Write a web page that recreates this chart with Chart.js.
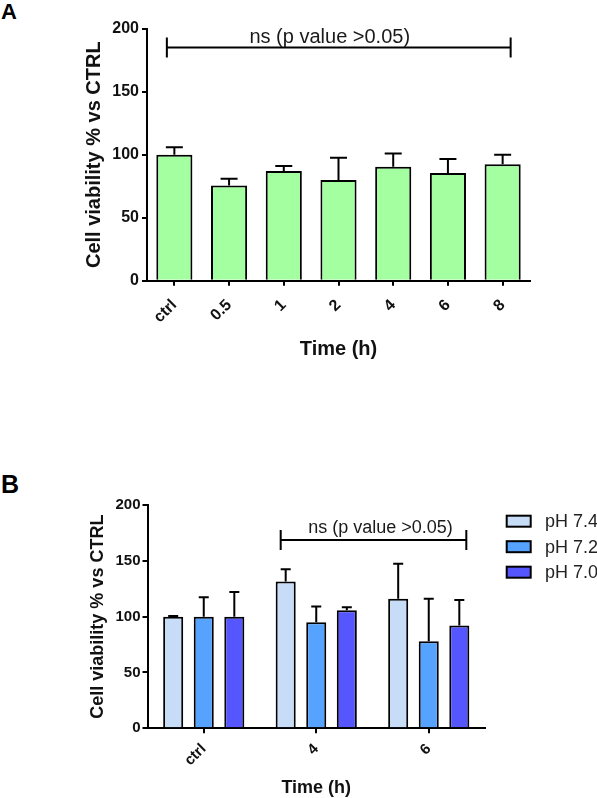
<!DOCTYPE html>
<html><head><meta charset="utf-8">
<script src="https://cdn.jsdelivr.net/npm/chart.js@4.4.1/dist/chart.umd.min.js"></script>
<style>
html,body{margin:0;padding:0;background:#fff;width:597px;height:798px;overflow:hidden;}
#cA{position:absolute;left:0;top:0;}
#cB{position:absolute;left:0;top:390px;}
.lbl{position:absolute;font-family:"Liberation Sans",Arial,sans-serif;font-weight:bold;color:#000;}
</style></head><body>
<div class="lbl" style="left:1px;top:1px;font-size:22px;line-height:22px;">A</div>
<div class="lbl" style="left:1px;top:472px;font-size:25px;line-height:25px;">B</div>
<canvas id="cA" width="597" height="380"></canvas>
<canvas id="cB" width="597" height="408"></canvas>
<script>
// ---- Panel A data ----
const timesA = ['ctrl', '0.5', '1', '2', '4', '6', '8'];
const viabilityA = [100, 75.5, 87, 80, 90.5, 85.5, 92.5];
const sdA = [6, 5.5, 4, 17.5, 10.5, 11, 7.5];
// ---- Panel B data ----
const timesB = ['ctrl', '4', '6'];
const seriesB = ['pH 7.4', 'pH 7.2', 'pH 7.0'];
const pH74 = [100, 131.5, 116];
const pH72 = [100, 95, 78];
const pH70 = [100, 105.7, 92];
const sdPH74 = [0.5, 11, 31.3];
const sdPH72 = [17.4, 14, 38];
const sdPH70 = [22, 2.7, 23];
// ---- axis / annotation ----
const yTicks = [0, 50, 100, 150, 200];
const nsText = 'ns (p value >0.05)';
const bracketA = {fromCat: 0, toCat: 6, value: 185};
const bracketB = {fromSeries: 0, fromCat: 1, toSeries: 2, toCat: 2, value: 168.7};

const FONT = '"Liberation Sans", Arial, sans-serif';
const colorsB = ['#C6DCF7', '#56A3FF', '#5656FF'];

const errorBars = {
  id: 'errorBars',
  afterDatasetsDraw(chart, args, opts) {
    const ctx = chart.ctx, ys = chart.scales.y;
    chart.data.datasets.forEach((ds, i) => {
      const meta = chart.getDatasetMeta(i);
      meta.data.forEach((bar, j) => {
        const top = ys.getPixelForValue(ds.data[j] + ds.errors[j]);
        ctx.save();
        ctx.strokeStyle = '#000'; ctx.lineWidth = 2;
        ctx.beginPath();
        ctx.moveTo(bar.x, bar.y); ctx.lineTo(bar.x, top);
        ctx.moveTo(bar.x - opts.cap / 2, top); ctx.lineTo(bar.x + opts.cap / 2, top);
        ctx.stroke();
        ctx.restore();
      });
    });
  }
};

const bracket = {
  id: 'bracket',
  afterDraw(chart, args, o) {
    const ctx = chart.ctx, ys = chart.scales.y;
    const m0 = chart.getDatasetMeta(o.fromSeries), m1 = chart.getDatasetMeta(o.toSeries);
    const x0 = m0.data[o.fromCat].x + o.dx0, x1 = m1.data[o.toCat].x + o.dx1;
    const y = ys.getPixelForValue(o.value);
    ctx.save();
    ctx.strokeStyle = '#000'; ctx.lineWidth = 2;
    ctx.beginPath();
    ctx.moveTo(x0, y); ctx.lineTo(x1, y);
    ctx.moveTo(x0, y - 10); ctx.lineTo(x0, y + 10);
    ctx.moveTo(x1, y - 10); ctx.lineTo(x1, y + 10);
    ctx.stroke();
    ctx.fillStyle = '#1a1a1a';
    ctx.font = o.fontSize + 'px ' + FONT;
    ctx.textAlign = 'center'; ctx.textBaseline = 'alphabetic';
    ctx.fillText(o.text, (x0 + x1) / 2 + o.tdx, y + o.tdy);
    ctx.restore();
  }
};

const boxLegend = {
  id: 'boxLegend',
  afterDraw(chart, args, o) {
    if (!o.show) return;
    const ctx = chart.ctx;
    ctx.save();
    chart.data.datasets.forEach((ds, i) => {
      const top = o.y + i * o.pitch;
      ctx.fillStyle = ds.backgroundColor;
      ctx.strokeStyle = '#000'; ctx.lineWidth = 2;
      ctx.fillRect(o.x, top, o.w, o.h);
      ctx.strokeRect(o.x, top, o.w, o.h);
      ctx.fillStyle = '#222';
      ctx.font = o.fontSize + 'px ' + FONT;
      ctx.textBaseline = 'middle'; ctx.textAlign = 'left';
      ctx.fillText(ds.label, o.tx, top + o.h / 2 + 1);
    });
    ctx.restore();
  }
};

function axes(tickSize, titleSize, yWidth, xHeight, xTitleLH, xTitlePad, yPad, xPad) {
  return {
    x: {
      grid: {display: true, drawOnChartArea: false, offset: false, tickLength: 5, color: '#000', lineWidth: 2},
      border: {display: true, color: '#000', width: 2},
      ticks: {color: '#111', font: {family: FONT, size: tickSize, weight: 'bold'}, minRotation: 45, maxRotation: 45, autoSkip: false, padding: xPad},
      title: {display: true, text: 'Time (h)', color: '#111', font: {family: FONT, size: titleSize, weight: 'bold', lineHeight: xTitleLH}, padding: xTitlePad},
      afterFit(s) { s.height = xHeight; }
    },
    y: {
      min: 0, max: 200,
      afterBuildTicks(s) { s.ticks = yTicks.map(v => ({value: v})); },
      grid: {display: true, drawOnChartArea: false, tickLength: 5, color: '#000', lineWidth: 2},
      border: {display: true, color: '#000', width: 2},
      ticks: {color: '#111', font: {family: FONT, size: tickSize, weight: 'bold'}, padding: yPad},
      title: {display: true, text: 'Cell viability % vs CTRL', color: '#111', font: {family: FONT, size: titleSize, weight: 'bold', lineHeight: 1.2}, padding: {top: 4, bottom: 4}},
      afterFit(s) { s.width = yWidth; }
    }
  };
}

new Chart(document.getElementById('cA'), {
  type: 'bar',
  data: {
    labels: timesA,
    datasets: [{label: 'viability', data: viabilityA, errors: sdA, backgroundColor: '#A3FF9F', borderColor: '#000', borderWidth: 2, barPercentage: 0.66, categoryPercentage: 1}]
  },
  options: {
    responsive: false, animation: false,
    layout: {padding: {left: 78, top: 28.7, right: 67, bottom: 15}},
    scales: axes(16, 20, 69, 84.3, 1.2, {top: 4, bottom: 4}, 3, 10),
    plugins: {
      legend: {display: false}, tooltip: {enabled: false},
      errorBars: {cap: 17},
      bracket: {fromSeries: 0, toSeries: 0, fromCat: bracketA.fromCat, toCat: bracketA.toCat, value: bracketA.value, dx0: -7.5, dx1: 8, text: nsText, fontSize: 20, tdx: -9, tdy: -5},
      boxLegend: {show: false}
    }
  },
  plugins: [errorBars, bracket, boxLegend]
});

const dataB = [pH74, pH72, pH70], sdB = [sdPH74, sdPH72, sdPH70];
new Chart(document.getElementById('cB'), {
  type: 'bar',
  data: {
    labels: timesB,
    datasets: seriesB.map((name, i) => ({label: name, data: dataB[i], errors: sdB[i], backgroundColor: colorsB[i], borderColor: '#000', borderWidth: 2, barPercentage: 0.656, categoryPercentage: 0.815}))
  },
  options: {
    responsive: false, animation: false,
    layout: {padding: {left: 83, top: 115, right: 112, bottom: 0}},
    scales: axes(15, 18, 64.5, 69.7, 1, {top: 0, bottom: 1}, 2, 7),
    plugins: {
      legend: {display: false}, tooltip: {enabled: false},
      errorBars: {cap: 10},
      bracket: {fromSeries: bracketB.fromSeries, toSeries: bracketB.toSeries, fromCat: bracketB.fromCat, toCat: bracketB.toCat, value: bracketB.value, dx0: -5, dx1: 7, text: nsText, fontSize: 18, tdx: 7, tdy: -7},
      boxLegend: {show: true, x: 506.7, y: 125.7, w: 24, h: 11, pitch: 25.5, tx: 545, fontSize: 18}
    }
  },
  plugins: [errorBars, bracket, boxLegend]
});
</script>
</body></html>
